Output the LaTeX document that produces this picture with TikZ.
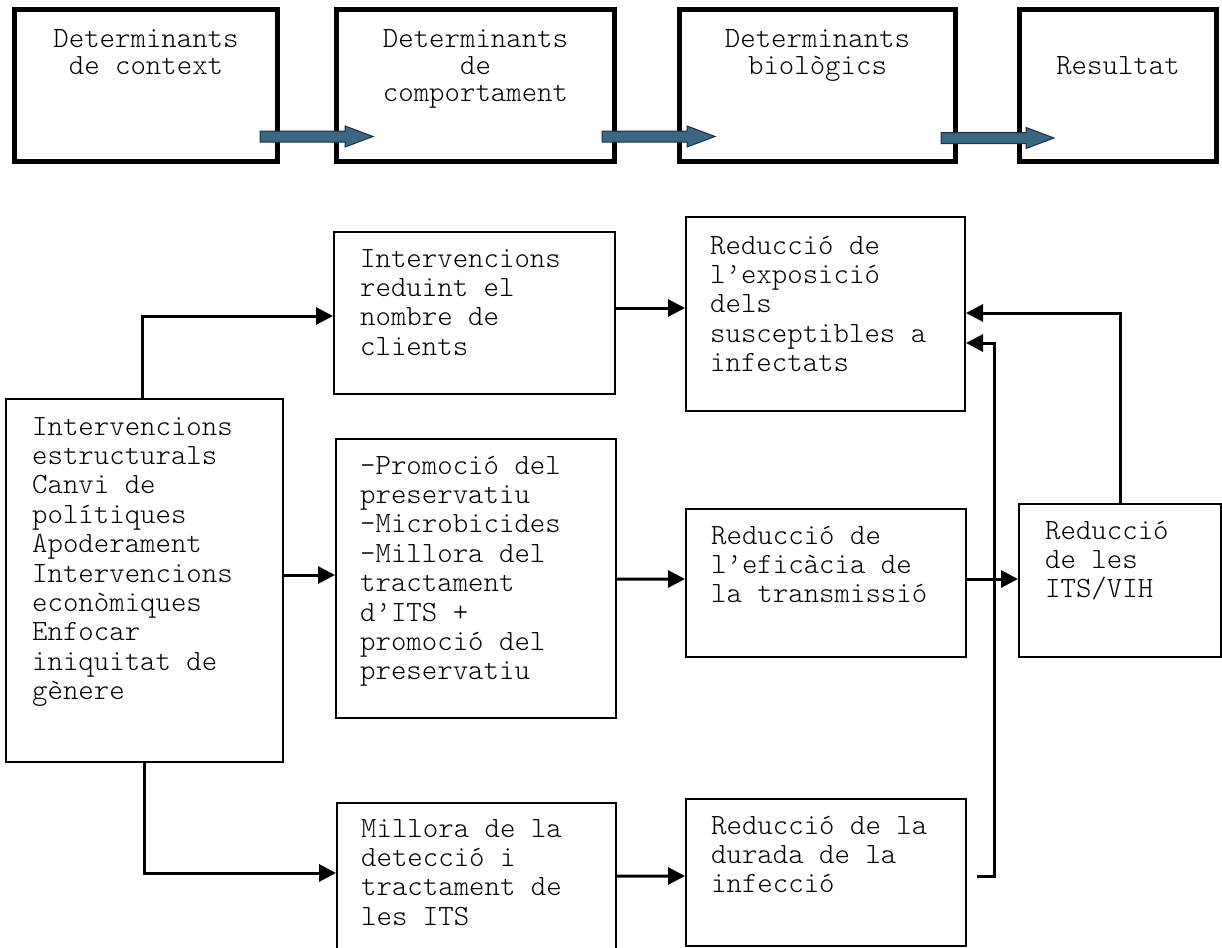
\documentclass[tikz,border=0pt]{standalone}
\usepackage{fontspec}
\newfontfamily\monofam{Latin Modern Mono Light}
\usetikzlibrary{arrows.meta,calc}
\definecolor{arrowfill}{RGB}{59,102,132}
\definecolor{arrowedge}{RGB}{28,48,66}
% wide blue arrow, drawn from its tail point
\newcommand\blockarr[1]{\draw[blockarrow] ($(#1)+(0,-5.5)$) -- ++(85,0) -- ++(0,-5) -- ++(28,10.5) -- ++(-28,10.5) -- ++(0,-5) -- ++(-85,0) -- cycle;}
\begin{document}
\begin{tikzpicture}[x=1bp,y=-1bp,
  headbox/.style={draw, line width=5bp, rectangle, inner sep=0pt},
  box/.style={draw, line width=2bp, rectangle, inner sep=0pt},
  headtext/.style={inner sep=0pt, anchor=north, align=center, font=\monofam\fontsize{29.5}{27.5}\selectfont},
  bodytext/.style={inner sep=0pt, anchor=north west, align=left, font=\monofam\fontsize{29.5}{29.5}\selectfont},
  conn/.style={line width=3bp, -{Triangle[length=17bp,width=17bp]}},
  blockarrow/.style={fill=arrowfill, draw=arrowedge, line width=1bp, line join=miter}]

\fill[white] (0,0) rectangle (1222,948);
\useasboundingbox (0,0) rectangle (1222,948);

% top row: the chain of determinants
\node[headbox, minimum width=263bp, minimum height=152bp] (T1) at (146,85.5) {};
\node[headbox, minimum width=278bp, minimum height=152bp] (T2) at (475.5,85.5) {};
\node[headbox, minimum width=276bp, minimum height=152bp] (T3) at (817.5,85.5) {};
\node[headbox, minimum width=197bp, minimum height=152bp] (T4) at (1118,85.5) {};

\node[headtext] (t1) at (146,27.75) {\strut Determinants\\de context};
\node[headtext] (t2) at (475.5,27.75) {\strut Determinants\\de\\comportament};
\node[headtext] (t3) at (817.5,27.75) {\strut Determinants\\biològics};
\node[headtext] (t4) at (1118,54.75) {\strut Resultat};

\coordinate (a1) at (260,136.5);
\coordinate (a2) at (602,136.5);
\coordinate (a3) at (941,138);
\blockarr{a1}
\blockarr{a2}
\blockarr{a3}

% lower diagram: interventions and their effects
\node[box, minimum width=277bp, minimum height=363bp] (L) at (144.5,580.5) {};
\node[box, minimum width=281bp, minimum height=162bp] (A) at (474.5,313) {};
\node[box, minimum width=279bp, minimum height=194bp] (B) at (825.5,314) {};
\node[box, minimum width=280bp, minimum height=279bp] (C) at (476,578.5) {};
\node[box, minimum width=280bp, minimum height=148bp] (E) at (826,583) {};
\node[box, minimum width=202bp, minimum height=153bp] (D) at (1120,580.5) {};
\node[box, minimum width=279bp, minimum height=160bp] (F) at (476.5,883) {};
\node[box, minimum width=280bp, minimum height=147bp] (G) at (826,872.5) {};

\node[bodytext] (tL) at (32,414.35) {\strut Intervencions\\estructurals\\Canvi de\\polítiques\\Apoderament\\Intervencions\\econòmiques\\Enfocar\\iniquitat de\\gènere};
\node[bodytext] (tA) at (360,246.35) {\strut Intervencions\\reduint el\\nombre de\\clients};
\node[bodytext] (tB) at (710,233.35) {\strut Reducció de\\l’exposició\\dels\\susceptibles a\\infectats};
\node[bodytext] (tC) at (360,453.35) {\strut –Promoció del\\preservatiu\\–Microbicides\\–Millora del\\tractament\\d’ITS +\\promoció del\\preservatiu};
\node[bodytext] (tE) at (711,523.35) {\strut Reducció de\\l’eficàcia de\\la transmissió};
\node[bodytext] (tD) at (1045,518.35) {\strut Reducció\\de les\\ITS/VIH};
\node[bodytext] (tF) at (361,816.35) {\strut Millora de la\\detecció i\\tractament de\\les ITS};
\node[bodytext] (tG) at (711,813.35) {\strut Reducció de la\\durada de la\\infecció};

% connectors
\draw[conn] ($(L.north)+(-2.5,0)$) |- ($(A.west)+(0,3)$);
\draw[conn] ($(L.east)+(0,-5.5)$) -- ($(C.west)+(0,-3.5)$);
\draw[conn] (L.south) |- ($(F.west)+(0,-10)$);
\draw[conn] ($(A.east)+(0,-5)$) -- ($(B.west)+(0,-6)$);
\draw[conn] ($(C.east)+(0,0.5)$) -- ($(E.west)+(0,-4)$);
\draw[conn] ($(F.east)+(0,-7)$) -- ($(G.west)+(0,3.5)$);
\draw[conn] ($(E.east)+(0,-4)$) -- ($(D.west)+(0,-1.5)$);
\draw[conn] (D.north) |- ($(B.east)+(0,-1)$);
\coordinate (gout) at ($(G.east)+(10,3.5)$);
\draw[conn] (gout) -| ($(B.east)+(28,29)$) -- ($(B.east)+(0,29)$);
\end{tikzpicture}
\end{document}
